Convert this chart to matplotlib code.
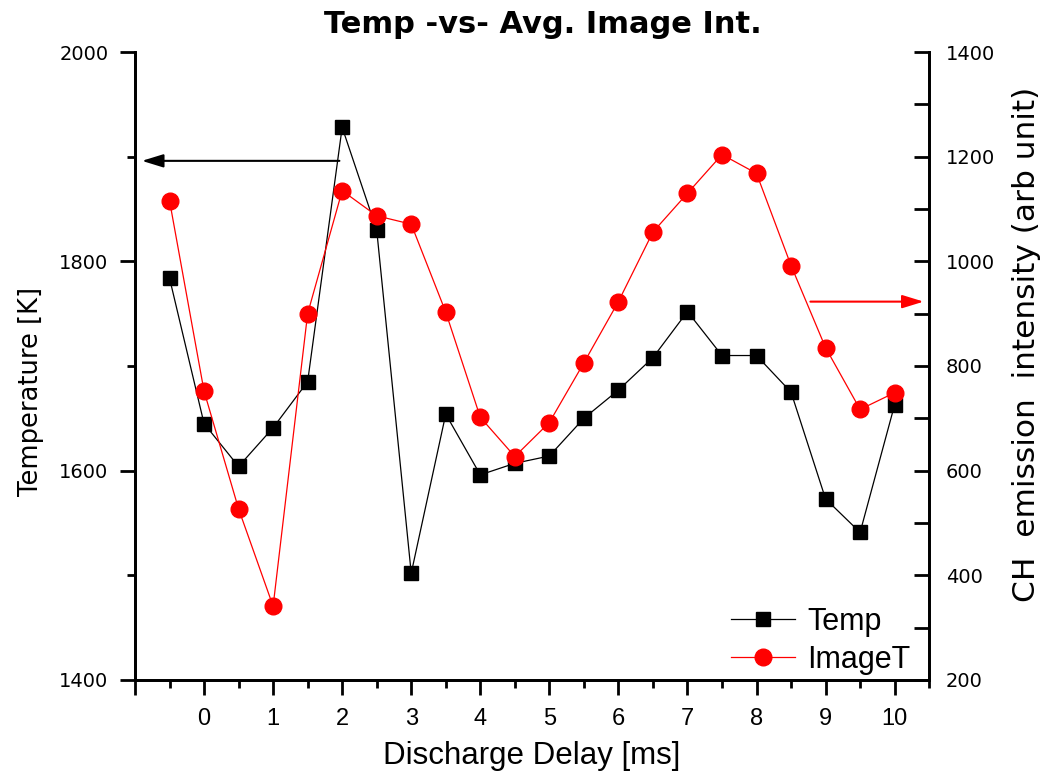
import numpy as np
import matplotlib.pyplot as plt
from matplotlib.ticker import MultipleLocator

plt.rcParams['font.family'] = ['Liberation Sans', 'DejaVu Sans']

# discharge delay [ms]
delay = np.arange(-0.5, 10.01, 0.5)
# temperature [K]
temp = [1784, 1645, 1604, 1641, 1685, 1928, 1830, 1502, 1654, 1596, 1607,
        1614, 1650, 1677, 1708, 1752, 1710, 1710, 1675, 1573, 1541, 1663]
# CH emission intensity (arb unit)
imageT = [1116, 752, 527, 341, 900, 1135, 1087, 1071, 903, 702, 627,
          692, 806, 923, 1056, 1130, 1204, 1168, 992, 835, 717, 749]

fig = plt.figure(figsize=(10.44, 7.75), dpi=100)
ax = fig.add_axes([0.1293, 0.1226, 0.7607, 0.8103])
ax2 = ax.twinx()

l1, = ax.plot(delay, temp, color='black', lw=0.9, marker='s', ms=10,
              markeredgecolor='black', label='Temp')
l2, = ax2.plot(delay, imageT, color='red', lw=0.9, marker='o', ms=12,
               markeredgecolor='red', label='ImageT')

ax.set_xlim(-1, 10.5)
ax.set_ylim(1400, 2000)
ax2.set_ylim(200, 1400)

ax.xaxis.set_minor_locator(MultipleLocator(0.5))
ax.yaxis.set_major_locator(MultipleLocator(200))
ax.yaxis.set_minor_locator(MultipleLocator(100))
ax2.yaxis.set_major_locator(MultipleLocator(200))
ax2.yaxis.set_minor_locator(MultipleLocator(100))
ax.set_xticks(np.arange(-1, 11))
ax.set_xticklabels([''] + [str(i) for i in range(11)])

for a in (ax, ax2):
    a.spines['top'].set_visible(False)
    for s in a.spines.values():
        s.set_linewidth(2)
ax.tick_params(axis='both', which='major', direction='out', length=11, width=2)
ax.tick_params(axis='both', which='minor', direction='out', length=6, width=2)
ax.tick_params(axis='x', which='major', labelsize=17, pad=9)
ax.tick_params(axis='y', which='major', pad=8, labelsize=14,
               labelfontfamily='DejaVu Sans')
ax2.tick_params(axis='y', which='major', direction='in', length=11, width=2,
                pad=12, labelsize=14, labelfontfamily='DejaVu Sans')
ax2.tick_params(axis='y', which='minor', direction='in', length=11, width=2)

ax.set_xlabel('Discharge Delay [ms]', fontsize=22.5, labelpad=8)
ax.set_ylabel('Temperature [K]', fontsize=18.5, family='DejaVu Sans')
ax.yaxis.set_label_coords(-0.115, 0.459)
ax2.set_ylabel('CH  emission  intensity (arb unit)', fontsize=22.5,
               family='DejaVu Sans')
ax2.yaxis.set_label_coords(1.104, 0.535)
ax.set_title('Temp -vs- Avg. Image Int.', fontsize=22, fontweight='bold',
             family='DejaVu Sans', pad=14, x=0.513)

# arrows pointing each curve to its axis
head = '-|>,head_length=0.65,head_width=0.2'
ax.annotate('', xy=(-0.9, 1896), xytext=(1.96, 1896),
            arrowprops=dict(arrowstyle=head, color='black', lw=1.5,
                            mutation_scale=20, shrinkA=0, shrinkB=0))
ax2.annotate('', xy=(10.42, 923), xytext=(8.78, 923),
             arrowprops=dict(arrowstyle=head, color='red', lw=1.5,
                             mutation_scale=20, shrinkA=0, shrinkB=0))

ax2.legend([l1, l2], ['Temp', 'ImageT'], loc='upper left', frameon=False,
           fontsize=22, handlelength=2.1, handletextpad=0.4, borderpad=0,
           bbox_to_anchor=((731 - 135) / 794, (680 - 607) / 628),
           borderaxespad=0, labelspacing=0.25)

fig.savefig('out.png', dpi=100)
